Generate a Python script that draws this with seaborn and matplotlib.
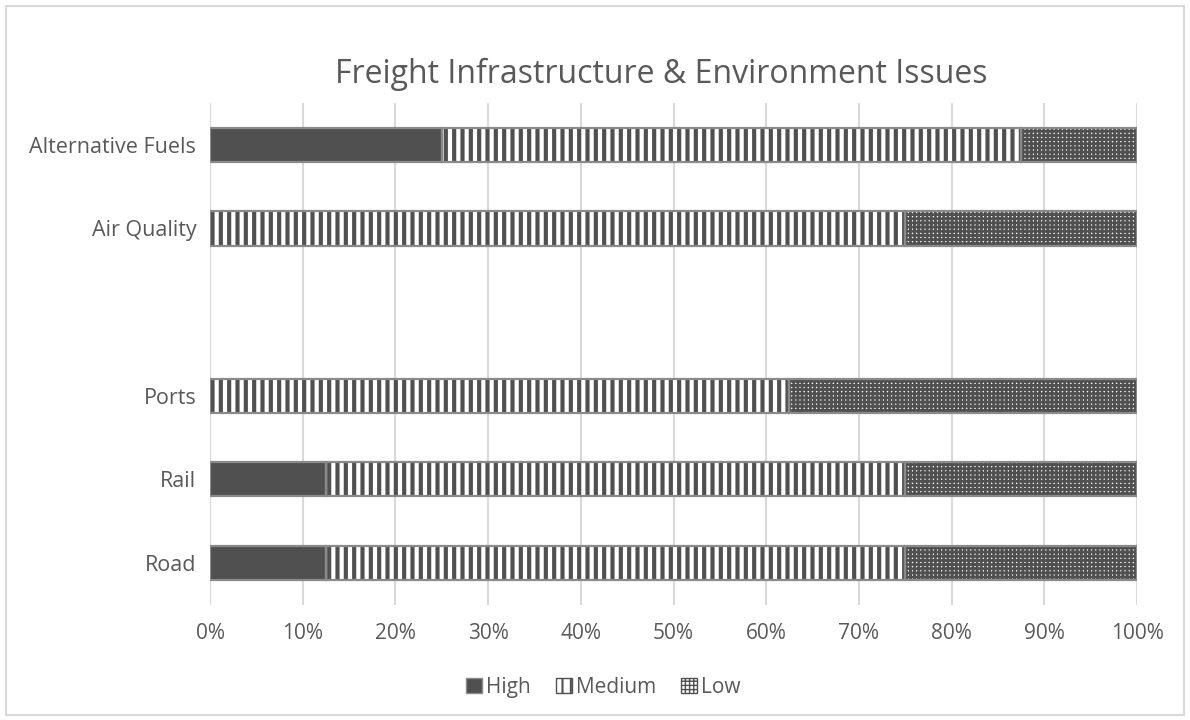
# Freight infrastructure & environment issues - 100% stacked bars
import numpy as np
import pandas as pd
import matplotlib
matplotlib.use("Agg")
import matplotlib.pyplot as plt
from matplotlib.patches import Patch, Rectangle
import seaborn as sns

# ============================================
# DATA
# ============================================

categories = ["Alternative Fuels", "Air Quality", " ", "Ports", "Rail", "Road"]
high = [25, 0, 0, 0, 12.5, 12.5]
medium = [62.5, 75, 0, 62.5, 62.5, 62.5]
low = [12.5, 25, 0, 37.5, 25, 25]
tick_values = [0, 10, 20, 30, 40, 50, 60, 70, 80, 90, 100]
tick_labels = [f"{v}%" for v in tick_values]
series_names = ["High", "Medium", "Low"]

df = pd.DataFrame({"Issue": categories, "High": high, "Medium": medium, "Low": low})
df["cum_medium"] = df["High"] + df["Medium"]
df["cum_low"] = df["cum_medium"] + df["Low"]

# ============================================
# STYLE
# ============================================

sns.set_style("whitegrid")
plt.rcParams["font.family"] = ["Open Sans", "DejaVu Sans"]
text_color = "#595959"
dark = "#505050"
border = "#8a8a8a"
LOW_LW = 2.0
MED_LW = 3.0

fig = plt.figure(figsize=(11.9, 7.2), dpi=100)
ax = fig.add_axes([0.1765, 0.160, 0.779, 0.697])


def set_hlw(patches, lw):
    for p in patches:
        if hasattr(p, "set_hatch_linewidth"):
            p.set_hatch_linewidth(lw)


def draw_layer(col, face, hatch, hatch_lw):
    n_before = len(ax.patches)
    with plt.rc_context({"hatch.linewidth": hatch_lw}):
        sns.barplot(
            data=df, x=col, y="Issue", order=categories, orient="y",
            color=face, saturation=1, width=0.41, errorbar=None,
            hatch=hatch, edgecolor=dark, linewidth=0, ax=ax,
        )
        set_hlw(ax.patches[n_before:], hatch_lw)


# Low (full length), Medium, High drawn on top of each other
draw_layer("cum_low", "white", "++++", LOW_LW)
draw_layer("cum_medium", "white", "||", MED_LW)
draw_layer("High", dark, None, 1.0)

# segment outlines
lefts = [np.zeros(len(categories)), df["High"].values, df["cum_medium"].values]
widths = [df["High"].values, df["Medium"].values, df["Low"].values]
for left, width in zip(lefts, widths):
    for i, (l, w) in enumerate(zip(left, width)):
        if w > 0:
            ax.barh(i, w, left=l, height=0.41, fill=False,
                    edgecolor=border, linewidth=1.6, zorder=3)

# ============================================
# AXES
# ============================================

ax.set_xlim(0, 100)
ax.set_ylim(5.5, -0.5)
ax.set_xticks(tick_values)
ax.set_xticklabels(tick_labels)
ax.set_xlabel("")
ax.set_ylabel("")
ax.grid(axis="x", color="#d9d9d9", linewidth=1.5)
ax.grid(axis="y", visible=False)
ax.set_axisbelow(True)
for s in ax.spines.values():
    s.set_visible(False)
ax.tick_params(axis="both", length=0, colors=text_color)
ax.tick_params(axis="y", labelsize=15.5, pad=10)
ax.tick_params(axis="x", labelsize=15, pad=13)

fig.text(0.556, 0.896, "Freight Infrastructure & Environment Issues",
         ha="center", va="center", fontsize=23, color=text_color)

handles = [
    Patch(facecolor=dark, edgecolor=border, label="High"),
    Patch(facecolor="white", edgecolor=dark, hatch="||", label="Medium"),
    Patch(facecolor="white", edgecolor=dark, hatch="++++", label="Low"),
]
leg = fig.legend(handles=handles, loc="center", bbox_to_anchor=(0.507, 0.045),
                 ncol=3, frameon=False, fontsize=15, labelcolor=text_color,
                 handlelength=0.75, handleheight=0.75, handletextpad=0.2,
                 columnspacing=1.2)
set_hlw(leg.get_patches()[1:2], 1.5)
set_hlw(leg.get_patches()[2:3], 1.0)

fig.patches.append(Rectangle((0.005, 0.007), 0.99, 0.984, transform=fig.transFigure,
                             fill=False, edgecolor="#d9d9d9", linewidth=1.5))

plt.savefig("out.png", dpi=100)
